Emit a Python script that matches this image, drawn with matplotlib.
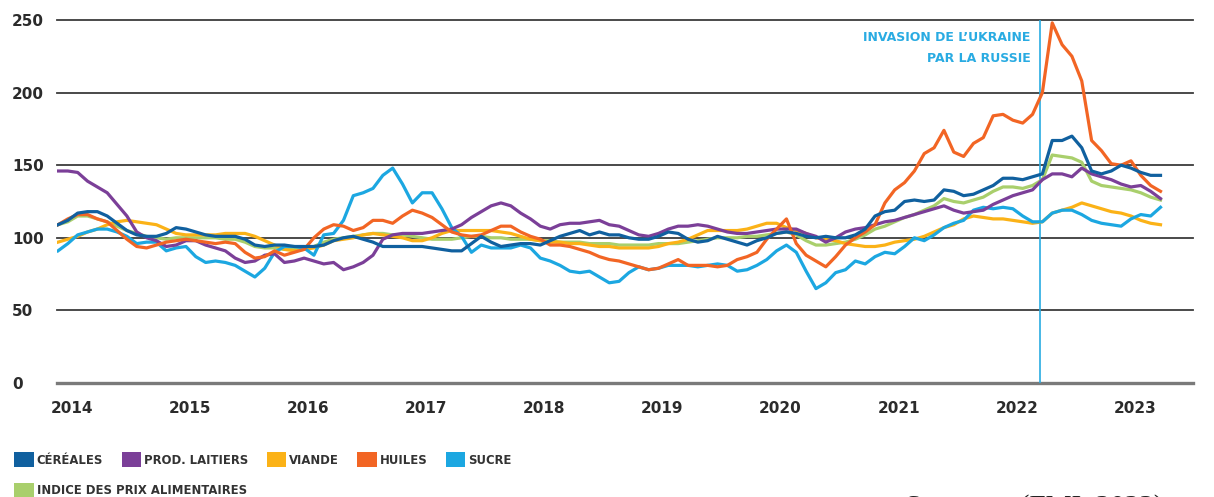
import numpy as np
import matplotlib.pyplot as plt
from matplotlib.patches import Patch

# Indices FAO des prix (2014-2016 = 100), mensuels de janvier 2014 a mai 2023
annees = ['2014', '2015', '2016', '2017', '2018', '2019', '2020', '2021', '2022', '2023']

cereales = [
    109, 112, 117, 118, 118, 115, 110, 105, 102, 101, 101, 103,
    107, 106, 104, 102, 101, 101, 101, 99, 95, 94, 95, 95,
    94, 94, 94, 95, 98, 100, 101, 99, 97, 94, 94, 94,
    94, 94, 93, 92, 91, 91, 96, 101, 97, 94, 95, 96,
    96, 95, 98, 101, 103, 105, 102, 104, 102, 102, 100, 99,
    99, 101, 104, 103, 99, 97, 98, 101, 99, 97, 95, 98,
    100, 103, 104, 103, 101, 100, 101, 100, 100, 102, 106, 115,
    118, 119, 125, 126, 125, 126, 133, 132, 129, 130, 133, 136,
    141, 141, 140, 142, 144, 167, 167, 170, 162, 146, 144, 146,
    150, 148, 145, 143, 143]

laitiers = [
    146, 146, 145, 139, 135, 131, 123, 115, 104, 100, 98, 94,
    95, 98, 98, 95, 93, 91, 86, 83, 84, 88, 89, 83,
    84, 86, 84, 82, 83, 78, 80, 83, 88, 99, 102, 103,
    103, 103, 104, 105, 106, 109, 114, 118, 122, 124, 122, 117,
    113, 108, 106, 109, 110, 110, 111, 112, 109, 108, 105, 102,
    101, 103, 106, 108, 108, 109, 108, 106, 104, 103, 103, 104,
    105, 106, 106, 106, 103, 101, 97, 100, 104, 106, 107, 109,
    111, 112, 114, 116, 118, 120, 122, 119, 117, 118, 119, 123,
    126, 129, 131, 133, 140, 144, 144, 142, 148, 144, 142, 140,
    137, 135, 136, 132, 127]

viande = [
    97, 99, 101, 104, 106, 109, 111, 112, 111, 110, 109, 106,
    103, 102, 102, 102, 102, 103, 103, 103, 101, 98, 95, 92,
    91, 92, 93, 95, 98, 99, 100, 102, 103, 102, 101, 100,
    98, 98, 100, 103, 105, 105, 105, 105, 105, 104, 103, 101,
    99, 98, 97, 97, 96, 96, 95, 94, 94, 93, 93, 93,
    93, 94, 96, 97, 99, 102, 105, 105, 105, 105, 106, 108,
    110, 110, 107, 105, 103, 100, 99, 98, 96, 95, 94, 94,
    95, 97, 98, 99, 101, 104, 107, 109, 113, 115, 114, 113,
    113, 112, 111, 110, 111, 117, 119, 121, 124, 122, 120, 118,
    117, 115, 112, 110, 109]

huiles = [
    109, 113, 116, 116, 113, 111, 105, 99, 94, 93, 95, 97,
    98, 99, 98, 97, 96, 97, 96, 90, 86, 87, 91, 88,
    90, 92, 100, 106, 109, 108, 105, 107, 112, 112, 110, 115,
    119, 117, 114, 109, 104, 102, 101, 102, 105, 108, 108, 104,
    101, 99, 95, 95, 94, 92, 90, 87, 85, 84, 82, 80,
    78, 79, 82, 85, 81, 81, 81, 80, 81, 85, 87, 90,
    99, 106, 113, 96, 88, 84, 80, 87, 95, 100, 104, 109,
    124, 133, 138, 146, 158, 162, 174, 159, 156, 165, 169, 184,
    185, 181, 179, 185, 200, 248, 233, 225, 208, 167, 160, 151,
    150, 153, 143, 136, 132]

sucre = [
    91, 96, 102, 104, 106, 106, 104, 101, 96, 97, 97, 91,
    93, 94, 87, 83, 84, 83, 81, 77, 73, 79, 90, 94,
    94, 93, 88, 102, 103, 112, 129, 131, 134, 143, 148, 137,
    124, 131, 131, 120, 107, 101, 90, 95, 93, 93, 93, 95,
    93, 86, 84, 81, 77, 76, 77, 73, 69, 70, 76, 80,
    78, 79, 81, 81, 81, 80, 81, 82, 81, 77, 78, 81,
    85, 91, 95, 90, 77, 65, 69, 76, 78, 84, 82, 87,
    90, 89, 94, 100, 98, 102, 107, 110, 112, 119, 121, 120,
    121, 120, 115, 111, 111, 117, 119, 119, 116, 112, 110, 109,
    108, 113, 116, 115, 121]

indice = [
    109, 111, 115, 115, 113, 111, 108, 105, 103, 101, 100, 99,
    100, 100, 100, 100, 100, 99, 99, 97, 94, 93, 93, 92,
    92, 93, 94, 97, 99, 100, 101, 102, 103, 103, 102, 102,
    101, 100, 99, 99, 99, 100, 101, 101, 100, 100, 99, 99,
    99, 98, 98, 97, 97, 97, 96, 96, 96, 95, 95, 95,
    95, 96, 96, 96, 97, 98, 99, 100, 100, 100, 101, 101,
    102, 103, 104, 102, 98, 95, 95, 96, 97, 99, 102, 106,
    108, 111, 114, 116, 119, 122, 127, 125, 124, 126, 128, 132,
    135, 135, 134, 136, 140, 157, 156, 155, 152, 139, 136, 135,
    134, 133, 131, 128, 126]

mois_invasion = 99.75  # position du trait vertical (en mois depuis janv. 2014)

noms = ['CÉRÉALES', 'PROD. LAITIERS', 'VIANDE', 'HUILES', 'SUCRE',
        'INDICE DES PRIX ALIMENTAIRES']
couleurs = ['#10609f', '#7b3f98', '#fbb217', '#f26524', '#1ca7e1', '#a9cf6c']
valeurs = [cereales, laitiers, viande, huiles, sucre, indice]

mois = np.arange(len(cereales))

fig = plt.figure(figsize=(12.14, 4.97), dpi=100)
ax = fig.add_axes([0.04695, 0.2294, 0.93575, 0.7304])

# ordre de trace : l'indice dessous, les cereales dessus
ordre = [5, 2, 4, 1, 3, 0]
for z, k in enumerate(ordre):
    ax.plot(mois, valeurs[k], color=couleurs[k], lw=2.3,
            solid_joinstyle='round', zorder=3 + z)

yt = [0, 50, 100, 150, 200, 250]
for v in yt:
    ax.axhline(v, color='#7a7a7a' if v == 0 else '#3c3c3c',
               lw=2.4 if v == 0 else 1.3, clip_on=False, zorder=1)

ax.axvline(mois_invasion, color='#29abe2', lw=1.2, zorder=2)
ax.text(98.8, 242.5, 'INVASION DE L\u2019UKRAINE\nPAR LA RUSSIE', ha='right', va='top',
        color='#29abe2', fontsize=9, fontweight='bold', linespacing=1.85)

ax.set_xlim(-0.1, 115.3)
ax.set_ylim(0, 250)
ax.set_xticks(np.arange(len(annees)) * 12 + 1.4, annees)
ax.set_yticks(yt, [str(v) for v in yt])
ax.tick_params(length=0, labelsize=11, labelcolor='#2b2b2b')
ax.tick_params(axis='y', pad=32.4)
ax.tick_params(axis='x', pad=13)
for lab in ax.get_yticklabels():
    lab.set_horizontalalignment('left')
    lab.set_fontweight('bold')
for lab in ax.get_xticklabels():
    lab.set_fontweight('bold')
for s in ax.spines.values():
    s.set_visible(False)

poignees = [Patch(facecolor=c, edgecolor='none') for c in couleurs]
style_leg = dict(loc='upper left', frameon=False, handlelength=1.65, handleheight=1.65,
                 handletextpad=0.25, columnspacing=1.6, borderaxespad=0, borderpad=0,
                 prop={'weight': 'bold', 'size': 8.4}, labelcolor='#333333')
fig.legend(poignees[:5], noms[:5], ncol=5, bbox_to_anchor=(0.0119, 0.0905), **style_leg)
fig.legend(poignees[5:], noms[5:], ncol=1, bbox_to_anchor=(0.0119, 0.0290), **style_leg)

fig.text(905 / 1214, -0.036, 'Sources : (FMI, 2023)', family='Liberation Serif',
         fontsize=21, va='baseline', color='#222222')

fig.savefig('out.png', dpi=100)
